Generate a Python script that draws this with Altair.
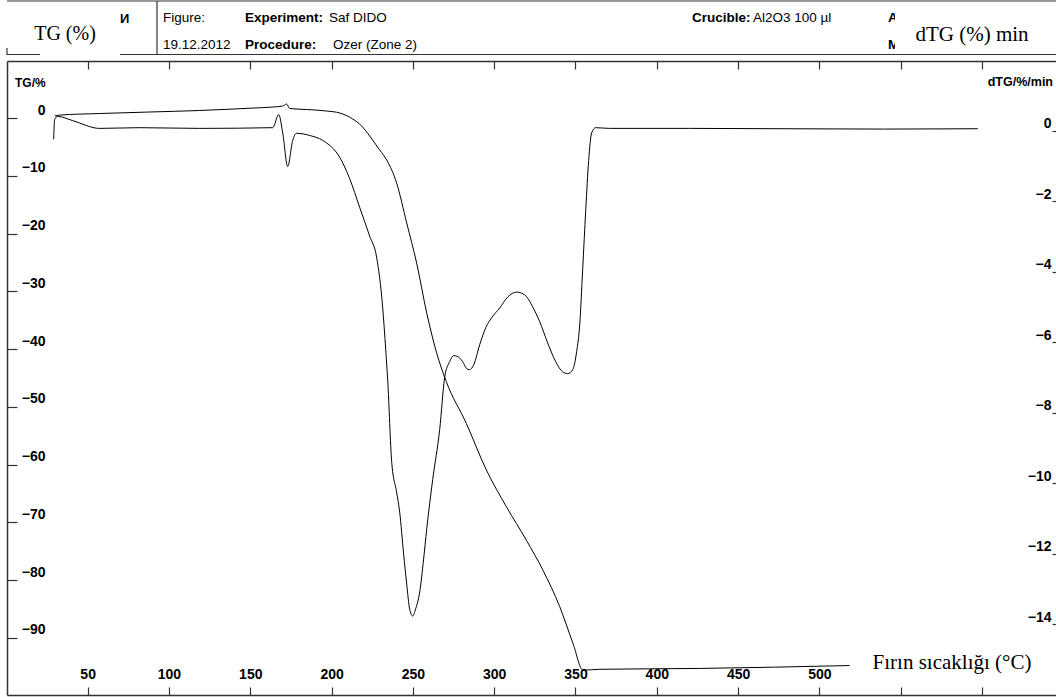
import altair as alt
import pandas as pd

# ---------------- data ----------------
temp_tg = [29.7, 32.8, 57.4, 88.1, 118.9, 150.0, 163.8, 170.0, 172.4, 174.2, 184.7, 197.0,
           205.0, 213.0, 218.5, 223.4, 229.6, 233.9, 240.0, 246.2, 252.3, 258.5, 264.6,
           270.5, 282.9, 295.2, 307.5, 319.8, 330.0, 340.3, 348.5, 354.6, 364.9, 426.4, 518.6]
tg = [0.35, 0.5, 0.78, 1.04, 1.3, 1.7, 1.9, 2.08, 2.42, 1.64, 1.47, 1.21,
      0.87, -0.17, -1.38, -3.11, -5.54, -7.27, -11.25, -18.17, -25.09, -33.74, -40.66,
      -45.6, -52.9, -60.95, -67.3, -73.1, -78.3, -84.6, -91.0, -95.6, -95.45, -95.3, -94.8]

temp_dtg = [29.1, 29.7, 31.5, 40.8, 57.4, 82.0, 118.9, 163.8, 167.5, 170.0, 173.0, 176.1,
            178.5, 186.5, 194.5, 205.0, 211.1, 217.3, 223.4, 227.7, 231.4, 233.3, 234.5,
            237.0, 240.0, 241.9, 244.3, 246.2, 248.0, 249.9, 251.7, 254.2, 256.6, 258.5,
            262.2, 266.5, 269.6, 272.6, 275.1, 277.6, 280.6, 283.1, 284.9, 287.4, 291.1,
            294.8, 298.4, 303.4, 308.3, 313.8, 318.8, 323.7, 328.0, 332.9, 337.8, 342.1,
            345.2, 348.3, 350.7, 352.6, 354.4, 356.3, 358.1, 360.0, 362.4, 371.0, 420.0,
            480.0, 540.0, 597.4]
dtg = [-0.25, 0.31, 0.40, 0.28, 0.06, 0.08, 0.06, 0.08, 0.45, -0.08, -1.02, -0.28,
       -0.08, -0.14, -0.28, -0.76, -1.36, -2.18, -2.99, -3.59, -5.0, -6.21, -7.06,
       -9.41, -10.25, -10.82, -12.0, -12.85, -13.56, -13.76, -13.56, -13.08, -12.15, -11.3,
       -9.89, -8.47, -6.98, -6.55, -6.38, -6.41, -6.55, -6.75, -6.78, -6.64, -6.07,
       -5.59, -5.31, -5.03, -4.72, -4.58, -4.66, -5.0, -5.42, -6.02, -6.55, -6.84,
       -6.89, -6.78, -6.27, -5.51, -3.95, -2.26, -0.85, -0.06, 0.08, 0.06, 0.06,
       0.05, 0.04, 0.05]

x_ticks = [50, 100, 150, 200, 250, 300, 350, 400, 450, 500, 550, 600]
tg_ticks = [0, -10, -20, -30, -40, -50, -60, -70, -80, -90]
dtg_ticks = [0, -2, -4, -6, -8, -10, -12, -14]

header_texts = {
    "left_title": "TG (%)",
    "right_title": "dTG (%) min",
    "logo": "И",
    "figure": "Figure:",
    "date": "19.12.2012",
    "exp_k": "Experiment:",
    "exp_v": "Saf DIDO",
    "proc_k": "Procedure:",
    "proc_v": "Ozer (Zone 2)",
    "cru_k": "Crucible:",
    "cru_v": "Al2O3 100 µl",
    "a": "A",
    "m": "M",
    "tg_axis": "TG/%",
    "dtg_axis": "dTG/%/min",
    "x_title": "Fırın sıcaklığı (°C)",
}

tg_df = pd.DataFrame({"T": temp_tg, "TG": tg})
dtg_df = pd.DataFrame({"T": temp_dtg, "dTG": dtg})

# ---------------- layout ----------------
W, H = 1049, 634
PL, PT = 7, 61
AX = "#333333"
SANS = "Liberation Sans"
SERIF = "Liberation Serif"

x_scale = alt.Scale(domain=[0.4, 645.5], nice=False, zero=False)
tg_scale = alt.Scale(domain=[-99.9, 9.87], nice=False, zero=False)
dtg_scale = alt.Scale(domain=[-16.0, 1.97], nice=False, zero=False)

common_ax = dict(title=None, grid=False, domainColor=AX, tickColor=AX, labelColor="black",
                 labelFont=SANS, labelFontWeight="bold", labelFontSize=14, labelOverlap=False,
                 labelFlush=False, domainWidth=1.5, tickWidth=1.2)

tg_line = alt.Chart(tg_df).mark_line(color="black", strokeWidth=1, interpolate="monotone").encode(
    x=alt.X("T:Q", scale=x_scale,
            axis=alt.Axis(orient="top", offset=-H, values=x_ticks, tickSize=8, labelPadding=6,
                          labelExpr="datum.value >= 550 ? '' : datum.label", **common_ax)),
    y=alt.Y("TG:Q", scale=tg_scale,
            axis=alt.Axis(orient="right", offset=-W, values=tg_ticks, tickSize=10, labelPadding=28,
                          labelAlign="right", labelBaseline="middle", labelOffset=-8, **common_ax)),
)

dtg_line = alt.Chart(dtg_df).mark_line(color="black", strokeWidth=1, interpolate="monotone").encode(
    x=alt.X("T:Q", scale=x_scale,
            axis=alt.Axis(orient="bottom", offset=-H, values=x_ticks, tickSize=8, labels=False,
                          **common_ax)),
    y=alt.Y("dTG:Q", scale=dtg_scale,
            axis=alt.Axis(orient="left", offset=-W, values=dtg_ticks, tickSize=4, labelPadding=1,
                          labelAlign="right", labelBaseline="middle", labelOffset=-7, domain=False,
                          **common_ax)),
)

one = pd.DataFrame({"k": [0]})


def hline(x1, x2, y, w=1.2, color=AX):
    return alt.Chart(one).mark_rule(color=color, strokeWidth=w).encode(
        x=alt.value(x1 - PL), x2=alt.value(x2 - PL), y=alt.value(y - PT))


def vline(x, y1, y2, w=1.2, color=AX):
    return alt.Chart(one).mark_rule(color=color, strokeWidth=w).encode(
        x=alt.value(x - PL), y=alt.value(y1 - PT), y2=alt.value(y2 - PT))


def label(key, x, y, size=13.5, bold=False, font=SANS, align="left"):
    return alt.Chart(one).mark_text(font=font, fontSize=size, fontWeight="bold" if bold else "normal",
                                    align=align, baseline="middle", color="black").encode(
        x=alt.value(x - PL), y=alt.value(y - PT), text=alt.value(header_texts[key]))


white_box = alt.Chart(one).mark_rect(color="white").encode(
    x=alt.value(895 - PL), x2=alt.value(1052 - PL), y=alt.value(4 - PT), y2=alt.value(52 - PT))

decor = [
    hline(7, 1056, 1),
    vline(7, 48, 55),
    hline(7, 40, 54.5),
    hline(120, 1056, 54.5),
    vline(157, 1, 54.5),
    label("logo", 120, 19, size=13, bold=True),
    label("figure", 163, 17.5),
    label("date", 163, 44.5),
    label("exp_k", 245, 17.5, bold=True),
    label("exp_v", 329, 17.5),
    label("proc_k", 245, 44.5, bold=True),
    label("proc_v", 333, 44.5),
    label("cru_k", 692, 17.5, bold=True),
    label("cru_v", 753, 17.5),
    label("a", 888, 17.5, bold=True),
    label("m", 888, 44.5, bold=True),
    white_box,
    label("left_title", 65, 34, size=20, font=SERIF, align="center"),
    label("right_title", 972, 35, size=21, font=SERIF, align="center"),
    label("tg_axis", 15, 83, size=12, bold=True),
    label("dtg_axis", 1053, 82, size=12.5, bold=True, align="right"),
    label("x_title", 952, 663, size=21, font=SERIF, align="center"),
]

chart = alt.layer(tg_line, dtg_line, *decor).resolve_scale(
    y="independent"
).resolve_axis(
    x="independent", y="independent"
).properties(
    width=W, height=H,
    padding={"left": PL, "top": PT, "right": 0, "bottom": 2},
    autosize=alt.AutoSizeParams(type="none"),
    background="white",
).configure_view(stroke=None)

chart.save("out.html", embed_options={"renderer": "svg", "actions": False})
